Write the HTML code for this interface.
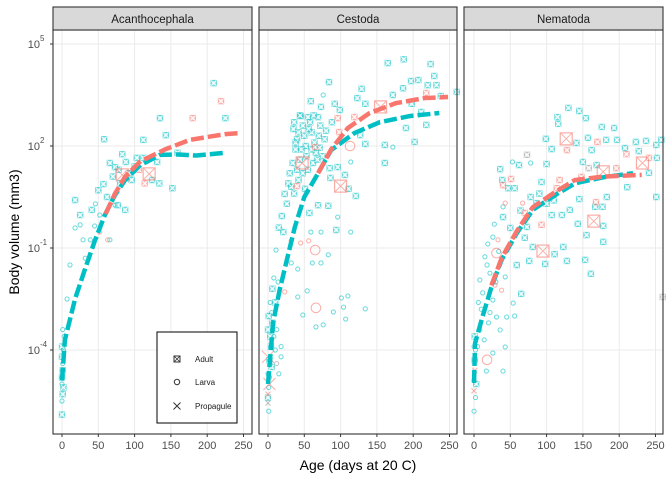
<!DOCTYPE html>
<html><head><meta charset="utf-8"><style>
body{margin:0;background:#fff}svg{display:block;font-family:"Liberation Sans",sans-serif}
</style></head><body>
<svg id="c" width="672" height="480" viewBox="0 0 672 480" xmlns="http://www.w3.org/2000/svg"></svg>
<script>
const panelNames=["Acanthocephala","Cestoda","Nematoda"];
const xTicks=[0,50,100,150,200,250];
const yTicks=[5,2,-1,-4];
// fitted curves: [age, log10 volume]
const curveTeal=[
[[0,-4.9],[4,-3.7],[18,-2.5],[32,-1.6],[45,-0.8],[59,-0.03],[73,0.56],[87,1.0],[108,1.44],[135,1.74],[160,1.75],[185,1.72],[225,1.8]],
[[0,-5],[7,-3.2],[16,-2.24],[27,-1.26],[37,-0.38],[50,0.5],[69,1.2],[87,1.88],[119,2.38],[154,2.7],[195,2.88],[236,2.97]],
[[0,-4.97],[1.5,-3.8],[12,-3.0],[24,-2.15],[38,-1.35],[59,-0.56],[81,0.12],[112,0.56],[139,0.9],[178,1.08],[219,1.2]]];
const curveRed=[
[[60,0.0],[73,0.6],[87,1.1],[108,1.55],[142,1.9],[176,2.18],[225,2.35],[245,2.38]],
[[69,1.2],[87,1.9],[110,2.53],[140,2.97],[176,3.26],[216,3.41],[248,3.44]],
[[24,-2.1],[38,-1.3],[59,-0.5],[81,0.2],[112,0.65],[139,1.0],[178,1.1],[231,1.15]]];
// observations: [age, log10 vol, stage(a/l/p), group(t/r/g), big(0/1)]
const pts0=[[209,3.85,'a','t',0],[135,2.82,'a','t',0],[225,2.82,'a','t',0],[58,2.2,'a','t',0],[112,2.18,'a','t',0],[143,2.32,'a','t',0],[83,1.76,'a','t',0],[66,1.5,'a','t',0],[103,1.65,'a','t',0],[112,1.65,'a','t',0],[88,1.53,'a','t',0],[131,1.53,'a','t',0],[159,1.8,'a','t',0],[134,0.9,'a','t',0],[152,0.76,'a','t',0],[124,1.0,'a','t',0],[73,1.38,'a','t',0],[94,1.2,'a','t',0],[78,1.3,'a','t',0],[70,1.1,'a','t',0],[219,3.32,'a','r',0],[180,2.82,'a','r',0],[83,1.15,'a','r',1],[120,1.18,'a','r',1],[114,0.9,'a','r',0],[92,1.2,'a','g',0],[18,0.41,'a','t',0],[41,0.12,'a','t',0],[25,-0.03,'a','t',0],[77,0.26,'a','t',0],[87,0.12,'a','t',0],[50,0.7,'a','t',0],[57,0.88,'a','t',0],[25,-0.32,'l','t',0],[29,-0.76,'l','t',0],[18,-0.41,'l','t',0],[45,-0.35,'l','t',0],[32,-1.3,'l','t',0],[11,-1.5,'l','t',0],[52,-0.03,'l','t',0],[73,0.26,'l','t',0],[7,-2.5,'l','t',0],[39,-0.76,'l','t',0],[66,-0.76,'l','t',0],[63,-0.76,'l','r',0],[52,-0.53,'l','r',0],[0,-4.2,'a','t',0],[1,-4.6,'a','t',0],[0,-5.0,'l','t',0],[1,-5.3,'a','t',0],[0,-5.9,'a','t',0],[2,-4.0,'l','t',0],[0,-5.5,'l','t',0],[3,-3.6,'l','t',0],[0,-4.8,'a','t',0],[1,-4.4,'l','t',0],[0,-3.9,'a','t',0],[2,-5.1,'a','t',0],[1,-3.4,'l','t',0],[100,1.4,'a','t',0],[96,1.0,'a','t',0],[106,1.3,'a','r',0],[80,0.9,'a','t',0],[62,0.5,'a','t',0],[46,0.3,'l','t',0]];
const pts1=[[187,4.55,'a','t',0],[165,4.44,'a','t',0],[224,4.41,'a','t',0],[229,4.06,'a','t',0],[84,3.88,'a','t',0],[197,3.91,'a','t',0],[207,3.94,'a','t',0],[220,3.79,'a','t',0],[232,3.79,'a','t',0],[129,3.68,'a','t',0],[186,3.7,'a','t',0],[260,3.59,'a','t',0],[238,3.47,'a','t',0],[172,3.5,'a','t',0],[123,3.41,'a','t',0],[59,3.32,'a','t',0],[73,3.15,'a','t',0],[92,3.24,'a','t',0],[99,3.06,'a','t',0],[134,3.24,'a','t',0],[198,3.24,'a','t',0],[211,3.0,'a','t',0],[218,2.62,'a','t',0],[190,2.53,'a','t',0],[45,2.88,'a','t',0],[55,2.85,'a','t',0],[69,2.85,'a','t',0],[127,2.32,'a','t',0],[134,2.06,'a','t',0],[161,2.03,'a','t',0],[161,1.5,'a','t',0],[202,2.12,'a','t',0],[85,1.35,'a','t',0],[96,1.38,'a','t',0],[106,1.15,'a','t',0],[111,0.74,'a','t',0],[86,1.06,'a','t',0],[121,0.53,'a','t',0],[94,-0.47,'a','t',0],[69,0.26,'a','t',0],[32,0.8,'a','t',0],[23,0.59,'a','t',0],[19,-0.06,'a','t',0],[21,-0.53,'a','t',0],[57,0.03,'a','t',0],[83,0.24,'a','t',0],[51,0.74,'a','t',0],[35,2.5,'a','t',0],[40,2.2,'a','t',0],[48,2.6,'a','t',0],[52,2.0,'a','t',0],[60,2.4,'a','t',0],[66,1.8,'a','t',0],[72,2.6,'a','t',0],[78,2.2,'a','t',0],[44,1.6,'a','t',0],[38,1.9,'a','t',0],[62,1.5,'a','t',0],[75,1.7,'a','t',0],[55,1.3,'a','t',0],[30,1.2,'a','t',0],[42,1.0,'a','t',0],[36,2.7,'a','t',0],[42,2.4,'a','t',0],[50,2.3,'a','t',0],[58,2.7,'a','t',0],[64,2.1,'a','t',0],[70,2.3,'a','t',0],[46,1.9,'a','t',0],[53,1.7,'a','t',0],[60,1.9,'a','t',0],[68,1.6,'a','t',0],[34,1.5,'a','t',0],[40,1.3,'a','t',0],[48,1.2,'a','t',0],[28,0.9,'a','t',0],[36,0.6,'a','t',0],[44,2.9,'a','t',0],[56,2.5,'a','t',0],[63,2.9,'a','t',0],[38,2.1,'a','t',0],[71,1.95,'a','t',0],[80,2.45,'a','t',0],[88,2.7,'a','t',0],[26,0.3,'a','t',0],[15,-0.4,'a','t',0],[155,3.15,'a','r',1],[100,0.82,'a','r',1],[47,1.5,'a','r',1],[65,1.97,'a','r',0],[96,2.82,'a','r',0],[119,2.85,'a','r',0],[218,3.56,'a','r',0],[40,0.82,'a','r',0],[98,2.41,'a','r',0],[76,3.5,'l','t',0],[172,1.97,'l','t',0],[114,1.53,'l','t',0],[114,-0.53,'l','t',0],[96,-0.09,'l','t',0],[59,-0.53,'l','t',0],[73,-0.53,'l','t',0],[83,-1.2,'l','t',0],[61,-1.44,'l','t',0],[73,-1.44,'l','t',0],[41,-1.62,'l','t',0],[101,-2.47,'l','t',0],[110,-2.41,'l','t',0],[134,-2.79,'l','t',0],[104,-2.74,'l','t',0],[90,-2.88,'l','t',0],[76,-3.26,'l','t',0],[66,-3.32,'l','t',0],[107,-3.09,'l','t',0],[54,-2.26,'l','t',0],[48,-2.97,'l','t',0],[32,-1.44,'l','t',0],[11,-1.06,'l','t',0],[8,-1.88,'l','t',0],[41,-2.44,'l','t',0],[65,-1.06,'l','r',1],[56,-0.79,'l','r',0],[45,-0.85,'l','r',0],[66,-2.76,'l','r',1],[23,-2.29,'l','r',0],[113,2.0,'l','r',1],[32,-0.79,'l','r',0],[5,-2.9,'l','t',0],[12,-3.4,'l','t',0],[18,-3.9,'l','t',0],[3,-3.6,'a','t',0],[6,-3.2,'a','t',0],[2,-4.3,'a','t',0],[0,-4.7,'l','t',0],[1,-5.1,'l','t',0],[0,-5.4,'a','t',0],[0,-4.2,'p','r',1],[2,-5.0,'p','r',1],[0,-5.3,'p','r',0],[0,-5.56,'p','g',0],[18,-4.2,'l','t',0],[12,-4.4,'l','g',0],[10,-4.0,'l','t',0],[1,-3.0,'a','t',0],[3,-2.6,'l','t',0],[4,-3.9,'a','t',0],[2,-4.8,'l','t',0],[1,-5.8,'l','t',0],[0,-3.4,'a','t',0],[5,-4.5,'a','t',0],[8,-3.6,'l','t',0],[15,-4.7,'l','t',0],[6,-2.2,'a','t',0],[10,-2.6,'a','t',0],[14,-2.0,'l','t',0]];
const pts2=[[130,3.12,'a','t',0],[115,2.85,'a','t',0],[145,3.03,'a','t',0],[154,2.82,'a','t',0],[116,2.65,'a','t',0],[176,2.56,'a','t',0],[193,2.53,'a','t',0],[99,2.21,'a','t',0],[157,2.24,'a','t',0],[182,2.18,'a','t',0],[197,2.18,'a','t',0],[223,2.12,'a','t',0],[237,2.15,'a','t',0],[258,2.18,'a','t',0],[251,2.03,'a','t',0],[107,1.91,'a','t',0],[141,2.09,'a','t',0],[162,1.88,'a','t',0],[208,1.94,'a','t',0],[227,1.85,'a','t',0],[36,1.32,'a','t',0],[62,1.44,'a','t',0],[100,1.47,'a','t',0],[150,1.53,'a','t',0],[169,1.44,'a','t',0],[252,1.65,'a','t',0],[241,1.21,'a','t',0],[211,0.79,'a','t',0],[251,0.5,'a','t',0],[39,1.0,'a','t',0],[56,0.76,'a','t',0],[93,0.94,'a','t',0],[78,0.5,'a','t',0],[183,0.5,'a','t',0],[145,0.44,'a','t',0],[167,0.21,'a','t',0],[177,0.21,'a','t',0],[132,0.12,'a','t',0],[107,-0.03,'a','t',0],[121,-0.03,'a','t',0],[143,-0.29,'a','t',0],[155,-0.62,'a','t',0],[178,-0.35,'a','t',0],[178,-0.82,'a','t',0],[123,-0.97,'a','t',0],[111,-1.18,'a','t',0],[98,-1.47,'a','t',0],[128,-1.38,'a','t',0],[153,-1.35,'a','t',0],[161,-1.76,'a','t',0],[76,-1.38,'a','t',0],[65,-2.35,'a','t',0],[59,-1.5,'a','t',0],[50,-0.41,'a','t',0],[73,-0.38,'a','t',0],[81,-0.97,'a','t',0],[40,-0.09,'a','t',0],[47,0.76,'a','t',0],[86,0.32,'a','t',0],[64,0.1,'a','t',0],[90,0.6,'a','t',0],[100,0.3,'a','t',0],[70,-0.7,'a','t',0],[110,0.4,'a','t',0],[127,2.21,'a','r',1],[170,2.12,'a','r',0],[51,1.03,'a','r',0],[40,0.85,'a','r',0],[178,1.24,'a','r',1],[196,1.35,'a','r',0],[232,1.5,'a','r',1],[241,1.65,'a','r',0],[210,1.76,'a','r',0],[128,1.88,'a','r',0],[148,1.09,'a','r',0],[114,0.76,'a','r',0],[168,0.35,'a','r',0],[165,-0.21,'a','r',1],[93,-0.32,'a','r',0],[95,-1.09,'a','r',1],[70,0.03,'a','r',0],[118,1.0,'a','r',0],[73,1.74,'a','g',0],[158,1.35,'a','g',0],[260,-2.44,'a','g',0],[53,1.53,'l','t',0],[78,1.5,'l','t',0],[40,0.21,'l','t',0],[26,-0.68,'l','t',0],[19,-0.88,'l','t',0],[15,-1.26,'l','t',0],[22,-1.74,'l','t',0],[43,-1.85,'l','t',0],[54,-2.62,'l','t',0],[56,-3.0,'l','t',0],[45,-3.03,'l','t',0],[36,-3.41,'l','t',0],[43,-3.91,'l','t',0],[26,-4.09,'l','t',0],[40,-4.62,'l','t',0],[17,-4.62,'l','t',0],[8,-3.41,'l','t',0],[8,-1.94,'l','t',0],[12,-2.32,'l','t',0],[26,-2.53,'l','t',0],[31,-3.03,'l','t',0],[10,-2.8,'l','t',0],[20,-3.2,'l','t',0],[5,-3.9,'l','t',0],[14,-3.7,'l','t',0],[22,-2.9,'l','t',0],[30,-2.0,'l','t',0],[18,-1.5,'l','t',0],[34,-1.1,'l','t',0],[28,-0.3,'l','t',0],[6,-2.6,'l','t',0],[31,-1.15,'l','r',1],[38,-2.24,'l','r',0],[18,-4.29,'l','r',1],[29,-2.09,'l','r',0],[67,0.32,'l','r',0],[43,0.32,'l','r',0],[33,-0.76,'l','r',0],[0,-5.2,'p','r',0],[1,-4.6,'p','r',0],[0,-5.8,'l','t',0],[2,-4.0,'l','t',0],[3,-5.0,'a','t',0],[1,-4.3,'a','t',0],[0,-4.9,'l','r',0],[2,-5.4,'l','t',0],[1,-3.6,'a','t',0],[0,-3.9,'l','t',0]];
const allPts=[pts0,pts1,pts2];

const svg=document.getElementById('c');const NS="http://www.w3.org/2000/svg";
function mk(t,a,p){const e=document.createElementNS(NS,t);for(const k in a)e.setAttribute(k,a[k]);(p||svg).appendChild(e);return e;}
const panels=[[53,252],[259,457],[464,663]];
const xZero=[62,268,474];const PT=30,PB=434;
function xs(k,v){return xZero[k]+v*0.726;}
function ys(v){return 146-(v-2)*34;}
const col={t:'#00BFC4',r:'#F8766D',g:'#999999'};
panels.forEach((p,k)=>{
 const g=mk('g',{});
 
 
 mk('rect',{x:p[0],y:PT,width:p[1]-p[0],height:PB-PT,fill:'#fff'},g);
 xTicks.forEach(t=>{const l=mk('line',{x1:xs(k,t),x2:xs(k,t),y1:PT,y2:PB,stroke:'#EBEBEB','stroke-width':1},g);
  mk('line',{x1:xs(k,t),x2:xs(k,t),y1:PB,y2:PB+3,stroke:'#333'},g);
  const tx=mk('text',{x:xs(k,t),y:PB+15,'text-anchor':'middle','font-size':11,fill:'#4D4D4D'},g);tx.textContent=t;});
 yTicks.forEach(t=>{mk('line',{x1:p[0],x2:p[1],y1:ys(t),y2:ys(t),stroke:'#EBEBEB'},g);});
 allPts[k].forEach(d=>{
  const x=xs(k,d[0]),y=ys(d[1]),c=col[d[3]],s=d[4]?6:2.6,op=0.6;
  const m=mk('g',{opacity:op},g);
  
  
  if(d[2]=='a'){mk('rect',{x:x-s,y:y-s,width:2*s,height:2*s,fill:d[4]?'none':c,'fill-opacity':0.5,stroke:c,'stroke-width':1.2},m);
   mk('path',{d:`M${x-s} ${y-s}L${x+s} ${y+s}M${x+s} ${y-s}L${x-s} ${y+s}`,stroke:d[4]?c:'#fff','stroke-width':0.9},m);}
  else if(d[2]=='l'){mk('circle',{cx:x,cy:y,r:s*0.8,fill:'none',stroke:c,'stroke-width':1},m);}
  else{mk('path',{d:`M${x-s} ${y-s}L${x+s} ${y+s}M${x+s} ${y-s}L${x-s} ${y+s}`,stroke:c,'stroke-width':1},m);}
 });
 [[curveTeal[k],col.t],[curveRed[k],col.r]].forEach(([c,cl],i)=>{
  const pl=mk('polyline',{points:c.map(d=>xs(k,d[0])+','+ys(d[1])).join(' '),fill:'none',stroke:cl,'stroke-width':4.5,'stroke-dasharray':'13 4'},g);
  });
 mk('rect',{x:p[0],y:PT,width:p[1]-p[0],height:PB-PT,fill:'none',stroke:'#333','stroke-width':1.1},g);
 const st=mk('rect',{x:p[0],y:7,width:p[1]-p[0],height:PT-7,fill:'#D9D9D9',stroke:'#333','stroke-width':1.1},g);
 
 const sl=mk('text',{x:(p[0]+p[1])/2,y:23,'text-anchor':'middle','font-size':11.5,fill:'#1A1A1A'},g);sl.textContent=panelNames[k];
 
});
yTicks.forEach(t=>{mk('line',{x1:50,x2:53,y1:ys(t),y2:ys(t),stroke:'#333'});
 const tx=mk('text',{x:40,y:ys(t)+4,'text-anchor':'end','font-size':11,fill:'#4D4D4D'});tx.textContent='10';
 
 const e=mk('text',{x:40,y:ys(t)-3,'font-size':8,fill:'#4D4D4D'});e.textContent=t;});
const xt=mk('text',{x:358,y:470,'text-anchor':'middle','font-size':14,fill:'#000'});xt.textContent='Age (days at 20 C)';

const yt=mk('text',{x:0,y:0,'text-anchor':'middle','font-size':14,fill:'#000',transform:'translate(19,232) rotate(-90)'});yt.textContent='Body volume (mm3)';

const lg=mk('g',{});

mk('rect',{x:157,y:332,width:80,height:91,fill:'#fff',stroke:'#000','stroke-width':1},lg);
const lk=[['Adult',359,'a'],['Larva',382,'l'],['Propagule',406,'p']];
lk.forEach(([n,y,s])=>{const x=177;
 if(s=='a'){mk('rect',{x:x-3,y:y-3,width:6,height:6,fill:'none',stroke:'#333'},lg);mk('path',{d:`M${x-3} ${y-3}L${x+3} ${y+3}M${x+3} ${y-3}L${x-3} ${y+3}`,stroke:'#333','stroke-width':0.8},lg);}
 else if(s=='l')mk('circle',{cx:x,cy:y,r:2.7,fill:'none',stroke:'#333'},lg);
 else mk('path',{d:`M${x-3.5} ${y-3.5}L${x+3.5} ${y+3.5}M${x+3.5} ${y-3.5}L${x-3.5} ${y+3.5}`,stroke:'#333'},lg);
 const t=mk('text',{x:195,y:y+3,'font-size':8,fill:'#1A1A1A'},lg);t.textContent=n;
 });
</script>
</body></html>
